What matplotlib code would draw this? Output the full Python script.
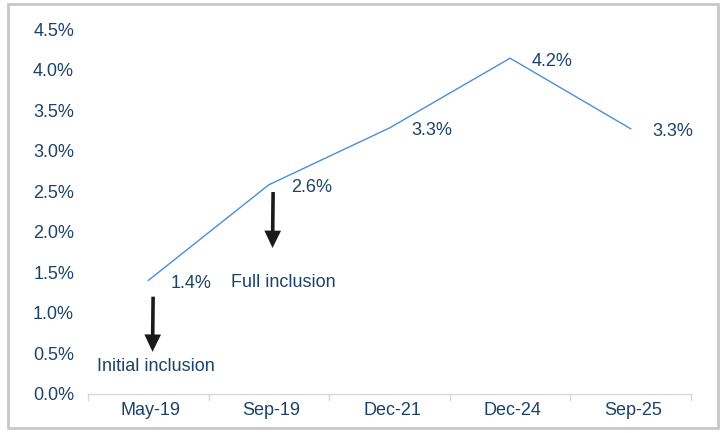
import matplotlib
matplotlib.use("Agg")
import matplotlib.pyplot as plt
from matplotlib.patches import Rectangle
from matplotlib.transforms import ScaledTranslation

categories = ["May-19", "Sep-19", "Dec-21", "Dec-24", "Sep-25"]
values = [1.40, 2.58, 3.28, 4.14, 3.27]
value_labels = ["1.4%", "2.6%", "3.3%", "4.2%", "3.3%"]
yticks = [0.0, 0.5, 1.0, 1.5, 2.0, 2.5, 3.0, 3.5, 4.0, 4.5]
annotations = ["Initial inclusion", "Full inclusion"]

plt.rcParams['font.family'] = ['Liberation Sans', 'DejaVu Sans']
text_color = "#1b4369"
line_color = "#4a8fd6"
fs = 13

fig = plt.figure(figsize=(7.23, 4.33), dpi=100)
ax = fig.add_axes([88/723, 1-394/433, (691-88)/723, (394-29)/433])

x = list(range(len(categories)))
ax.plot(x, values, color=line_color, lw=1.0)
ax.set_xlim(-0.5, len(categories) - 0.5)
ax.set_ylim(0, 4.5)

for xi, v, lab in zip(x, values, value_labels):
    ax.annotate(lab, (xi, v), xytext=(22, -3), textcoords="offset pixels",
                ha="left", va="center", fontsize=fs, color=text_color)

# arrows
arrow_kw = dict(width=2.6, headwidth=12, headlength=12.5, facecolor="#1a1a1a",
                edgecolor="none", shrink=0)
ax.annotate("", xy=(0.035, 0.52), xytext=(0.04, 1.20), arrowprops=arrow_kw)
ax.annotate("", xy=(1.03, 1.80), xytext=(1.035, 2.49), arrowprops=arrow_kw)

ax.text(0.065, 0.34, annotations[0], ha="center", va="center", fontsize=fs, color=text_color)
ax.text(1.12, 1.37, annotations[1], ha="center", va="center", fontsize=fs, color=text_color)

ax.set_yticks(yticks)
ax.set_yticklabels([f"{t:.1f}%" for t in yticks])
ax.set_xticks(x)
ax.set_xticklabels(categories)
ax.tick_params(axis="y", length=0, pad=10, labelsize=fs, labelcolor=text_color)
ax.tick_params(axis="x", length=0, pad=6, labelsize=fs, labelcolor=text_color)
shift = ScaledTranslation(2.5/100, 0, fig.dpi_scale_trans)
for lbl in ax.get_xticklabels():
    lbl.set_transform(lbl.get_transform() + shift)
# boundary tick marks
for b in [i - 0.5 for i in range(len(categories) + 1)]:
    ax.plot([b, b], [0, -0.07], color="#d8d8d8", lw=1, clip_on=False)

for s in ["top", "right", "left"]:
    ax.spines[s].set_visible(False)
ax.spines["bottom"].set_color("#d8d8d8")
ax.spines["bottom"].set_linewidth(1)

fig.patches.append(Rectangle((8/723, 1-428/433), (718-8)/723, (428-4)/433,
                             transform=fig.transFigure, fill=False,
                             edgecolor="#c8c8c8", lw=2))

fig.savefig("out.png", dpi=100)
